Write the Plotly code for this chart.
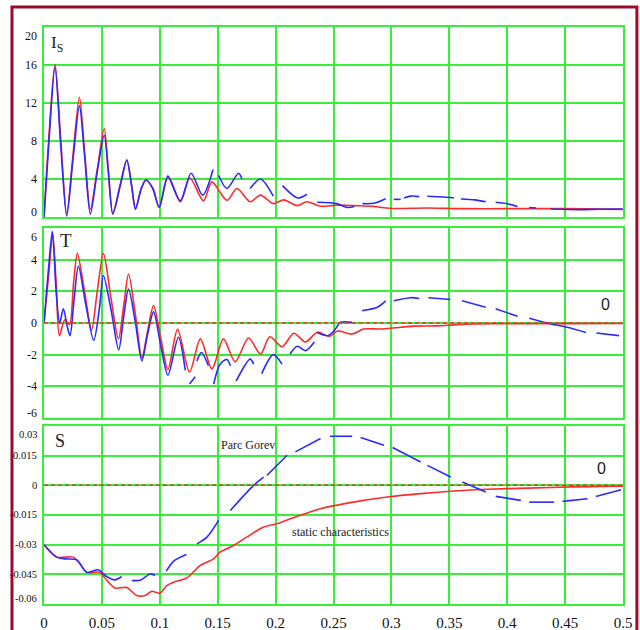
import plotly.graph_objects as go

# ---------------- data ----------------
# Panel 1: I_S
is_red_t = [0, 0.004, 0.0095, 0.0145, 0.0196, 0.025, 0.0306, 0.035, 0.040, 0.046, 0.052, 0.0555,
            0.0594, 0.066, 0.0715, 0.0755, 0.079, 0.084, 0.088, 0.094, 0.0995, 0.107, 0.1177, 0.126,
            0.1377, 0.145, 0.158, 0.1667, 0.178, 0.187, 0.198, 0.207, 0.2186, 0.227, 0.239, 0.253,
            0.268, 0.283, 0.30, 0.33, 0.36, 0.40, 0.45, 0.5]
is_red_v = [0, 8, 16.1, 8, 0.3, 6.5, 12.6, 7, 0.8, 5, 9.3, 5,
            0.4, 3.5, 6.0, 3.5, 0.9, 3, 3.9, 3, 1.0, 4.2, 1.6, 4.1,
            1.7, 3.7, 1.76, 3.0, 1.6, 2.3, 1.4, 1.8, 1.2, 1.6, 1.13, 1.25,
            1.2, 1.13, 0.9, 0.95, 0.88, 0.88, 0.88, 0.8]

is_blue_t = [0, 0.004, 0.0095, 0.0145, 0.0196, 0.025, 0.0306, 0.035, 0.040, 0.046, 0.052, 0.0555,
             0.0594, 0.066, 0.0715, 0.0755, 0.079, 0.084, 0.088, 0.094, 0.0995, 0.107, 0.1177, 0.127,
             0.137, 0.146, None, 0.1508, 0.158, 0.168, 0.171, None, 0.178, 0.187, 0.198, None,
             0.206, 0.219, 0.227, None, 0.236, 0.253, 0.262, 0.268, None, 0.275, 0.285, 0.295, None,
             0.302, 0.308, None, 0.311, 0.3166, 0.324, None, 0.331, 0.345, 0.354, None,
             0.36, 0.372, 0.3815, None, 0.39, 0.40, 0.409, None, 0.419, 0.425, None,
             0.4377, 0.461, 0.48, 0.4997]
is_blue_v = [0, 7.5, 15.8, 7.5, 0.1, 6, 11.7, 6.5, 0.3, 4.8, 8.6, 4.8,
             0.3, 3.4, 6.0, 3.4, 0.8, 3, 3.9, 3, 1.0, 4.3, 1.7, 4.6,
             2.3, 5.0, None, 4.4, 3.0, 4.6, 4.0, None, 3.0, 4.0, 2.2, None,
             3.3, 2.0, 2.4, None, 1.55, 1.41, 1.0, 1.1, None, 1.41, 1.45, 1.93, None,
             1.86, 1.86, None, 2.0, 2.2, 2.15, None, 2.18, 2.1, 2.0, None,
             1.9, 1.8, 1.6, None, 1.55, 1.4, 1.1, None, 1.0, 0.95, None,
             0.85, 0.78, 0.82, 0.85]

# Panel 2: T
t_red_t = [0, 0.004, 0.0075, 0.0105, 0.0133, 0.018, 0.022, 0.0255, 0.0288, 0.035, 0.041, 0.046,
           0.0513, 0.058, 0.0643, 0.069, 0.073, 0.079, 0.0845, 0.0895, 0.0946, 0.101, 0.107,
           0.1153, 0.1257, 0.135, 0.145, 0.155, 0.165, 0.1767, 0.187, 0.195, 0.2056, 0.2157,
           0.2258, 0.236, 0.2465, 0.2535, 0.266, 0.276, 0.29, 0.308, 0.319, 0.34, 0.354, 0.371,
           0.40, 0.45, 0.5]
t_red_v = [0, 3.0, 5.6, 2.5, -0.8, 0.2, -0.1, 2.5, 4.4, 2.0, -0.45, 2.0,
           4.4, 1.5, -1.0, 1.2, 3.1, 0.5, -2.2, -0.5, 1.1, -1.0, -2.95,
           -0.4, -3.1, -1.0, -2.9, -1.0, -2.45, -0.95, -1.96, -0.87, -1.5, -0.65,
           -1.2, -0.58, -0.85, -0.5, -0.7, -0.38, -0.38, -0.27, -0.2, -0.18, -0.12, -0.06,
           -0.05, -0.04, -0.03]

t_blue_t = [0, 0.004, 0.0072, 0.0105, 0.0135, 0.0167, 0.020, 0.0225, 0.026, 0.0297, 0.036, 0.043,
            0.048, 0.0513, 0.058, 0.0645, 0.069, 0.073, 0.079, 0.0845, 0.0895, 0.0946, 0.101,
            0.107, 0.116, 0.122, None, 0.1257, 0.1306, None, 0.132, 0.136, 0.142, None,
            0.1465, 0.152, 0.158, 0.161, None, 0.166, 0.178, 0.181, None, 0.188, 0.198, 0.2056,
            None, 0.2125, 0.2186, 0.2258, 0.2335, None, 0.236, 0.245, 0.2505, 0.256, 0.266, None,
            0.2748, 0.288, 0.295, None, 0.302, 0.3166, 0.324, None, 0.332, 0.351, None,
            0.361, 0.3815, None, 0.390, 0.409, None, 0.419, 0.4377, 0.452, 0.468, None,
            0.477, 0.4966]
t_blue_v = [0, 3.5, 5.8, 2.0, 0.0, 0.9, -0.2, -0.8, 1.5, 3.6, 1.2, -1.1,
            1.0, 3.0, 0.8, -1.7, 0.5, 2.15, 0.0, -2.4, -0.7, 0.7, -1.5,
            -3.3, -0.9, -3.0, None, -3.86, -3.4, None, -2.4, -1.86, -2.7, None,
            -3.86, -2.6, -2.3, -2.7, None, -3.65, -2.28, -2.6, None, -3.2, -2.0, -2.6,
            None, -1.96, -1.47, -1.75, -1.2, None, -0.6, -0.8, -0.5, 0.04, 0.04, None,
            0.78, 1.0, 1.4, None, 1.4, 1.6, 1.55, None, 1.6, 1.48, None,
            1.4, 1.0, None, 0.9, 0.42, None, 0.3, -0.06, -0.27, -0.6, None,
            -0.63, -0.8]

# Panel 3: S
s_red_t = [0, 0.011, 0.0253, 0.031, 0.0369, 0.048, 0.0542, 0.0614, 0.0715, 0.0802, 0.0875,
           0.093, 0.100, 0.106, 0.1118, 0.1234, 0.135, 0.1465, 0.152, 0.1637, 0.175, 0.1897,
           0.2013, 0.2128, 0.2273, 0.2387, 0.267, 0.2965, 0.3253, 0.354, 0.383, 0.418, 0.455, 0.5]
s_red_v = [-0.030, -0.0363, -0.0363, -0.0397, -0.044, -0.044, -0.048, -0.0519, -0.0517, -0.0557, -0.0557,
           -0.0536, -0.0546, -0.0507, -0.049, -0.0468, -0.0405, -0.0372, -0.0338, -0.0304, -0.0262, -0.0211,
           -0.0194, -0.0169, -0.014, -0.0118, -0.0085, -0.0059, -0.0042, -0.0029, -0.002, -0.0014, -0.0008, -0.0005]

s_blue_t = [0, 0.011, 0.018, 0.0283, 0.037, 0.047, 0.054, 0.0614, 0.067, None,
            0.0759, 0.083, 0.0917, 0.096, None, 0.1055, 0.1118, 0.123, None,
            0.1321, 0.1407, 0.1508, None, 0.1609, 0.181, 0.1897, None, 0.1926, 0.2099, None,
            0.2171, 0.2388, None, 0.247, 0.2661, None, 0.2734, 0.2936, None, 0.301, 0.3253, None,
            0.3311, 0.3512, None, 0.3613, 0.3815, None, 0.3901, 0.4118, None, 0.419, 0.4406, None,
            0.4478, 0.4694, None, 0.4766, 0.4983]
s_blue_v = [-0.030, -0.0363, -0.0372, -0.0377, -0.044, -0.0427, -0.0461, -0.0478, -0.0461, None,
            -0.0481, -0.048, -0.0448, -0.0456, None, -0.0434, -0.0384, -0.035, None,
            -0.0296, -0.0262, -0.0177, None, -0.0127, 0.0, 0.0042, None, 0.0051, 0.0152, None,
            0.0169, 0.0237, None, 0.0248, 0.0248, None, 0.0242, 0.0203, None, 0.0191, 0.0118, None,
            0.0101, 0.0042, None, 0.0017, -0.0034, None, -0.0056, -0.0076, None, -0.0085, -0.0085, None,
            -0.0081, -0.0068, None, -0.0056, -0.0022]

x_ticks = [0, 0.05, 0.1, 0.15, 0.2, 0.25, 0.3, 0.35, 0.4, 0.45, 0.5]
x_ticktext = ["0", "0.05", "0.1", "0.15", "0.2", "0.25", "0.3", "0.35", "0.4", "0.45", "0.5"]
is_ticks = [0, 4, 8, 12, 16, 20]
is_ticktext = ["0", "4", "8", "12", "16", "20"]
t_ticks = [-6, -4, -2, 0, 2, 4, 6]
t_ticktext = ["-6", "-4", "-2", "0", "2", "4", "6"]
s_ticks = [-0.06, -0.045, -0.03, -0.015, 0, 0.015, 0.03]
s_ticktext = ["-0.06", "-0.045", "-0.03", "-0.015", "0", "0.015", "0.03"]

# ---------------- styling ----------------
RED = "#ff2a2a"
BLUE = "#2a2aff"
GREEN = "#38ee38"
FRAME = "#9b0a2a"
SERIF = "Liberation Serif"

fig = go.Figure()

def add(xs, ys, color, axis):
    fig.add_trace(go.Scatter(x=xs, y=ys, mode="lines", xaxis="x" + axis, yaxis="y" + axis,
                             line=dict(color=color, width=1.6, shape="spline", smoothing=0.8),
                             connectgaps=False, showlegend=False, hoverinfo="skip"))

add(is_red_t, is_red_v, RED, "")
add(is_blue_t, is_blue_v, BLUE, "")
add(t_red_t, t_red_v, RED, "2")
add(t_blue_t, t_blue_v, BLUE, "2")
add(s_red_t, s_red_v, RED, "3")
add(s_blue_t, s_blue_v, BLUE, "3")

# dashed zero lines
for ax in ["2", "3"]:
    fig.add_trace(go.Scatter(x=[0, 0.5], y=[0, 0], mode="lines", xaxis="x" + ax, yaxis="y" + ax,
                             line=dict(color=RED, width=1.5, dash="4px,3px"),
                             showlegend=False, hoverinfo="skip"))

xcommon = dict(range=[0, 0.5], tickvals=x_ticks, ticktext=x_ticktext, showgrid=True,
               gridcolor=GREEN, gridwidth=2, showline=True, linecolor=GREEN, linewidth=2,
               mirror=True, zeroline=False, ticks="", automargin=False,
               tickfont=dict(family=SERIF, size=15, color="#111"))
ycommon = dict(showgrid=True, gridcolor=GREEN, gridwidth=2, showline=True, linecolor=GREEN,
               linewidth=2, mirror=True, zeroline=False, ticks="", automargin=False,
               showticklabels=False)

fig.update_layout(
    width=640, height=630,
    margin=dict(l=44, r=17, t=27, b=26),
    paper_bgcolor="white", plot_bgcolor="white",
    xaxis=dict(**xcommon, anchor="y", showticklabels=False),
    xaxis2=dict(**xcommon, anchor="y2", showticklabels=False),
    xaxis3=dict(**xcommon, anchor="y3", showticklabels=True, ticklabelstandoff=4),
    yaxis=dict(**ycommon, domain=[0.6707, 1.0], range=[0, 20], tickvals=is_ticks),
    yaxis2=dict(**ycommon, domain=[0.3224, 0.6516], range=[-6, 6], tickvals=t_ticks),
    yaxis3=dict(**ycommon, domain=[0.0, 0.3085], range=[-0.06, 0.03], tickvals=s_ticks),
)

# y tick labels (end labels nudged inward as in the reference)
def ylabels(vals, texts, yref, size):
    n = len(vals)
    for i, (v, s) in enumerate(zip(vals, texts)):
        shift = 0
        if i == 0:
            shift = 5
        elif i == n - 1:
            shift = -9
        fig.add_annotation(text=s, x=0, y=v, xref="paper", yref=yref, xanchor="right",
                           xshift=-5, yshift=shift, showarrow=False,
                           font=dict(family=SERIF, size=size, color="#111"))

ylabels(is_ticks, is_ticktext, "y", 12)
ylabels(t_ticks, t_ticktext, "y2", 12)
ylabels(s_ticks, s_ticktext, "y3", 10.5)

# outer frame
fig.add_shape(type="rect", xref="paper", yref="paper", x0=-0.0553, x1=1.024, y0=-0.08, y1=1.0347,
              line=dict(color=FRAME, width=3), layer="above")

def note(text, x, y, xr, yr, size, family=SERIF, xanchor="center"):
    fig.add_annotation(text=text, x=x, y=y, xref=xr, yref=yr, showarrow=False,
                       font=dict(family=family, size=size, color="#222"), xanchor=xanchor)

note("I<sub>S</sub>", 0.011, 18.2, "x", "y", 17)
note("T", 0.019, 5.2, "x2", "y2", 19)
note("S", 0.014, 0.0225, "x3", "y3", 18)
note("0", 0.485, 1.2, "x2", "y2", 16, family="Liberation Sans")
note("0", 0.481, 0.0085, "x3", "y3", 16, family="Liberation Sans")
note("Parc Gorev", 0.176, 0.0205, "x3", "y3", 12)
note("static characteristics", 0.256, -0.0235, "x3", "y3", 12)

# remove the default page margin so the 640x630 figure fills the window exactly
fig.write_html("out.html", config={"displayModeBar": False},
               post_script="document.body.style.margin='0px';document.body.style.overflow='hidden';")
